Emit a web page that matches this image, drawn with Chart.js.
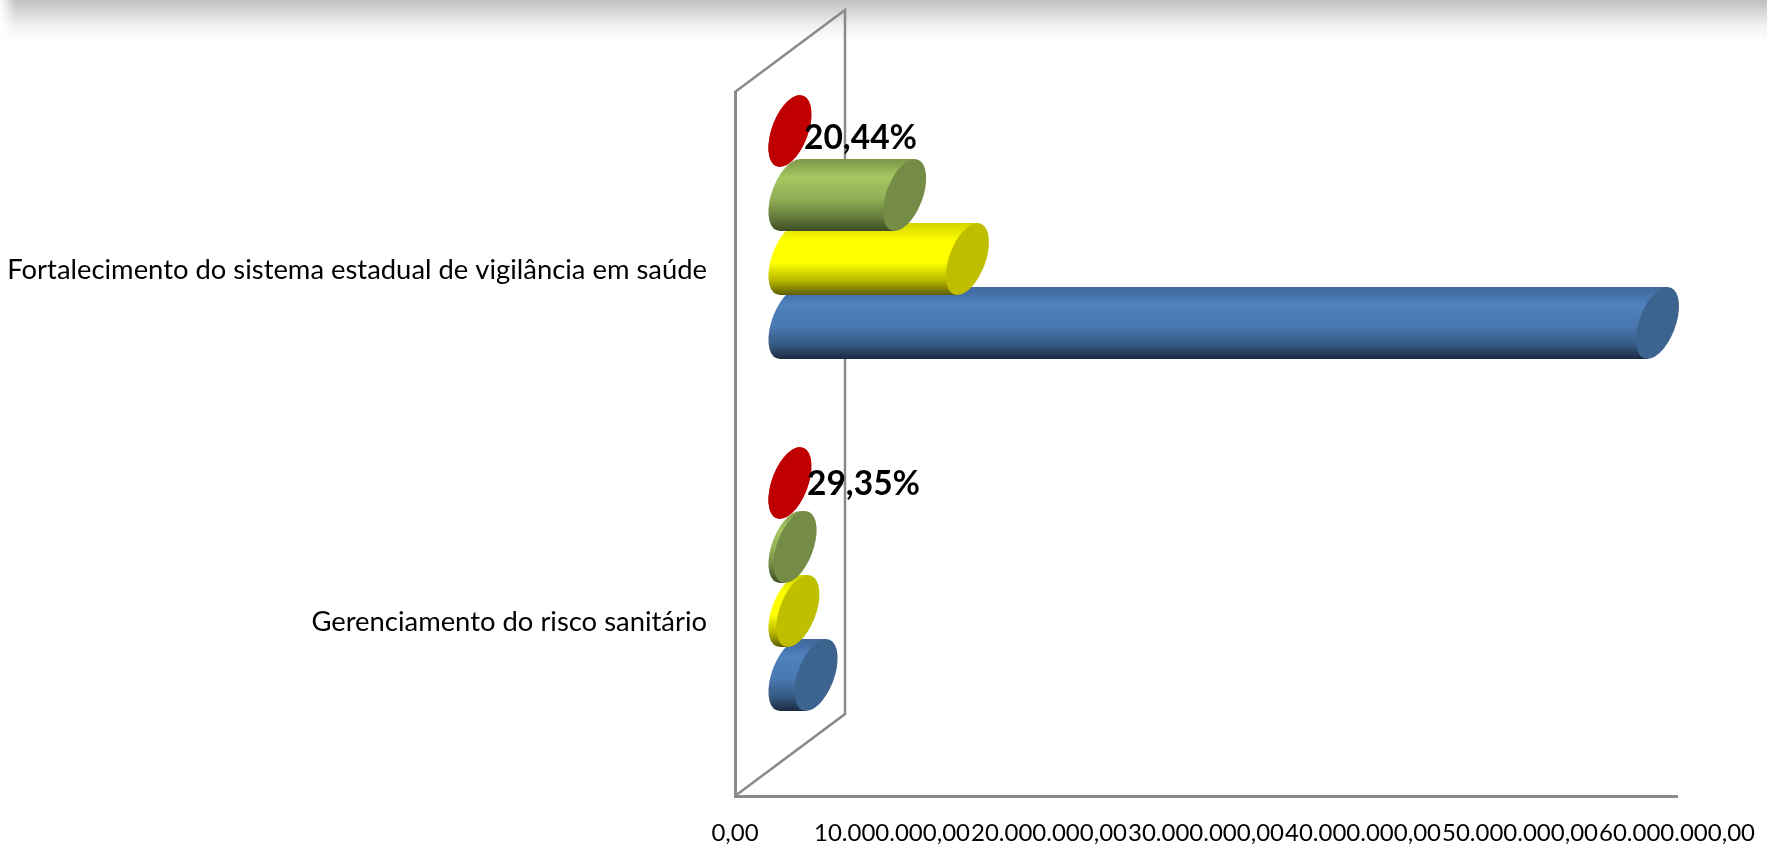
<!DOCTYPE html>
<html lang="pt-BR">
<head>
<meta charset="utf-8">
<title>Gráfico</title>
<script src="https://cdn.jsdelivr.net/npm/chart.js@4"></script>
<style>
  html, body { margin: 0; padding: 0; background: #fff; overflow: hidden; }
  #wrap { position: relative; width: 1767px; height: 850px; overflow: hidden; }
  #shade {
    position: absolute; left: 0; right: 0; top: 0; height: 44px;
    background: linear-gradient(#c0c0c0, #d6d6d6 27%, #efefef 55%, #f9f9f9 78%, #fff);
    -webkit-mask-image: linear-gradient(90deg, transparent, #000 16px);
  }
  canvas { position: absolute; left: 0; top: 0; }
</style>
</head>
<body>
<div id="wrap">
  <div id="shade"></div>
  <canvas id="chart" width="1767" height="850"></canvas>
</div>
<script>
const categories = ['Fortalecimento do sistema estadual de vigilância em saúde', 'Gerenciamento do risco sanitário'];
const valuesRed = [0, 0];
const valuesGreen = [7300000, 320000];
const valuesYellow = [11300000, 500000];
const valuesBlue = [55250000, 1660000];
const percentLabels = ['20,44%', '29,35%'];
const xMax = 60000000;
const xStep = 10000000;

// depth of the fake 3D box, in px
const DEPTH_X = 110;
const DEPTH_Y = 82;
const SHEAR = -0.28;
const WALL_COLOR = '#8a8a8a';

// body gradient stops run top to bottom
const stopPositions = [0, 0.25, 0.55, 0.8, 1];
const styleRed = { cap: '#c00000', stops: ['#c00000', '#c00000', '#c00000', '#900000', '#600000'] };
const styleGreen = { cap: '#748c46', stops: ['#7c9648', '#a6c761', '#90af55', '#667d3e', '#3d4c22'] };
const styleYellow = { cap: '#bfbf00', stops: ['#d4d400', '#ffff00', '#ffff00', '#b8b800', '#5c5c00'] };
const styleBlue = { cap: '#3d638f', stops: ['#40679a', '#4f81bd', '#4a78b0', '#365a83', '#1a2b40'] };

function drawCylinder(ctx, bar, style) {
  const ry = bar.height / 2;
  const rx = ry * 0.53;
  const x0 = bar.base + DEPTH_X / 2;
  const x1 = bar.x + DEPTH_X / 2;
  ctx.save();
  ctx.transform(1, 0, SHEAR, 1, 0, bar.y - DEPTH_Y / 2);

  const grad = ctx.createLinearGradient(0, -ry, 0, ry);
  stopPositions.forEach((p, i) => grad.addColorStop(p, style.stops[i]));
  ctx.fillStyle = grad;
  ctx.beginPath();
  ctx.moveTo(x1, -ry);
  ctx.lineTo(x0, -ry);
  ctx.ellipse(x0, 0, rx, ry, 0, -Math.PI / 2, Math.PI / 2, true);
  ctx.lineTo(x1, ry);
  ctx.closePath();
  ctx.fill();

  ctx.fillStyle = style.cap;
  ctx.beginPath();
  ctx.ellipse(x1, 0, rx, ry, 0, 0, Math.PI * 2);
  ctx.fill();
  ctx.restore();
}

const cylinderPlugin = {
  id: 'cylinders',
  beforeDatasetsDraw(chart) {
    const { ctx, chartArea, scales } = chart;
    const x0 = scales.x.getPixelForValue(0);

    // side wall of the box
    ctx.save();
    ctx.strokeStyle = WALL_COLOR;
    ctx.lineWidth = 2.5;
    ctx.beginPath();
    ctx.moveTo(x0, chartArea.top);
    ctx.lineTo(x0 + DEPTH_X, chartArea.top - DEPTH_Y);
    ctx.lineTo(x0 + DEPTH_X, chartArea.bottom - DEPTH_Y);
    ctx.lineTo(x0, chartArea.bottom);
    ctx.stroke();
    ctx.restore();

    // last dataset first, upper bars sit over the lower ones
    for (let d = chart.data.datasets.length - 1; d >= 0; d--) {
      const ds = chart.data.datasets[d];
      chart.getDatasetMeta(d).data.forEach(bar => drawCylinder(ctx, bar, ds.cylinder));
    }
  },
  afterDatasetsDraw(chart) {
    const { ctx } = chart;
    const bars = chart.getDatasetMeta(0).data;
    ctx.save();
    ctx.fillStyle = '#000';
    ctx.font = 'bold 33.5px Lato';
    ctx.textBaseline = 'middle';
    bars.forEach((bar, i) => {
      const labelX = bar.x + DEPTH_X / 2 + (i === 0 ? 14 : 17);
      const labelY = bar.y - DEPTH_Y / 2 + (i === 0 ? 7 : 1);
      ctx.fillText(percentLabels[i], labelX, labelY);
    });
    ctx.restore();
  }
};

function makeDataset(values, style) {
  return {
    data: values,
    backgroundColor: 'transparent',
    borderWidth: 0,
    cylinder: style,
    categoryPercentage: 0.727,
    barPercentage: 1.125
  };
}

new Chart(document.getElementById('chart').getContext('2d'), {
  type: 'bar',
  data: {
    labels: categories,
    datasets: [
      makeDataset(valuesRed, styleRed),
      makeDataset(valuesGreen, styleGreen),
      makeDataset(valuesYellow, styleYellow),
      makeDataset(valuesBlue, styleBlue)
    ]
  },
  options: {
    indexAxis: 'y',
    responsive: false,
    animation: false,
    layout: { padding: { top: 92, right: 90, left: 0, bottom: 0 } },
    plugins: { legend: { display: false }, tooltip: { enabled: false } },
    scales: {
      x: {
        min: 0,
        max: xMax,
        afterFit: scale => {
          scale.height = 54;
          // keep the plot width exact, last tick label may hang out
          scale.paddingLeft = 0;
          scale.paddingRight = 0;
        },
        grid: { display: false, drawTicks: false },
        border: { color: WALL_COLOR, width: 3 },
        ticks: {
          stepSize: xStep,
          maxRotation: 0,
          autoSkip: false,
          padding: 23,
          color: '#000',
          font: { family: 'Lato', size: 24 },
          callback: value => value.toLocaleString('pt-BR', { minimumFractionDigits: 2, maximumFractionDigits: 2 })
        }
      },
      y: {
        afterFit: scale => { scale.width = 735; },
        grid: { display: false, drawTicks: false },
        border: { color: WALL_COLOR, width: 3 },
        ticks: {
          padding: 28,
          color: '#000',
          font: { family: 'Lato', size: 27.4, lineHeight: 0.19 },
          // empty first line nudges the text a little below the tick position
          callback(value) { return ['', this.getLabelForValue(value)]; }
        }
      }
    }
  },
  plugins: [cylinderPlugin]
});
</script>
</body>
</html>
